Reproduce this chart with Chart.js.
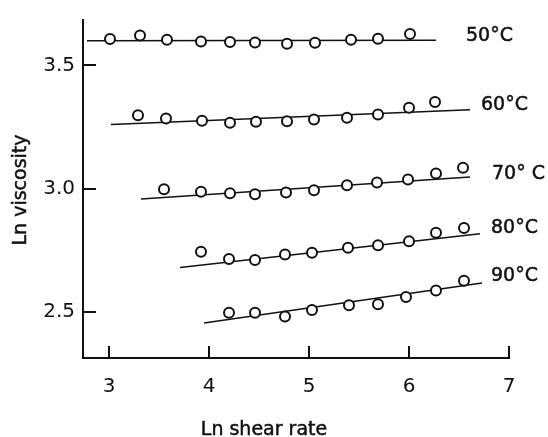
<!DOCTYPE html>
<html>
<head>
<meta charset="utf-8">
<script src="https://cdn.jsdelivr.net/npm/chart.js@4.4.0/dist/chart.umd.min.js"></script>
<style>
  html, body { margin: 0; padding: 0; background: #fff; }
  canvas { display: block; }
</style>
</head>
<body>
<canvas id="chart" width="548" height="437"></canvas>
<script>
// Ln viscosity vs Ln shear rate, one series per temperature

const xTicks = [3, 4, 5, 6, 7];
const yTicks = [2.5, 3.0, 3.5];
const tempLabels = ['50°C', '60°C', '70° C', '80°C', '90°C'];

// measured points
const shear50 = [3.01, 3.31, 3.58, 3.92, 4.21, 4.46, 4.78, 5.06, 5.42, 5.69, 6.01];
const visc50  = [3.607, 3.621, 3.604, 3.597, 3.595, 3.593, 3.588, 3.592, 3.604, 3.608, 3.627];

const shear60 = [3.29, 3.57, 3.93, 4.21, 4.47, 4.78, 5.05, 5.38, 5.69, 6.00, 6.26];
const visc60  = [3.297, 3.284, 3.275, 3.267, 3.271, 3.273, 3.280, 3.287, 3.300, 3.328, 3.351];

const shear70 = [3.55, 3.92, 4.21, 4.46, 4.77, 5.05, 5.38, 5.68, 5.99, 6.27, 6.54];
const visc70  = [2.997, 2.987, 2.981, 2.977, 2.984, 2.993, 3.013, 3.024, 3.037, 3.061, 3.084];

const shear80 = [3.92, 4.20, 4.46, 4.76, 5.03, 5.39, 5.69, 6.00, 6.27, 6.55];
const visc80  = [2.743, 2.714, 2.710, 2.732, 2.739, 2.760, 2.770, 2.786, 2.820, 2.840];

const shear90 = [4.20, 4.46, 4.76, 5.03, 5.40, 5.69, 5.97, 6.27, 6.55];
const visc90  = [2.496, 2.496, 2.480, 2.507, 2.526, 2.530, 2.560, 2.586, 2.626];

// fitted straight lines (end points)
const fitX50 = [2.78, 6.27];  const fitY50 = [3.600, 3.602];
const fitX60 = [3.02, 6.61];  const fitY60 = [3.260, 3.320];
const fitX70 = [3.32, 6.61];  const fitY70 = [2.957, 3.047];
const fitX80 = [3.71, 6.71];  const fitY80 = [2.679, 2.816];
const fitX90 = [3.95, 6.73];  const fitY90 = [2.454, 2.616];

// where the temperature labels sit (data units, left edge / middle)
const labelX = [6.57, 6.72, 6.83, 6.82, 6.82];
const labelY = [3.617, 3.337, 3.057, 2.838, 2.643];

const ink = '#111';
const fontFamily = '"DejaVu Sans", sans-serif';

function pts(xs, ys) {
    return xs.map((x, i) => ({ x: x, y: ys[i] }));
}

const pointSets = [[shear50, visc50], [shear60, visc60], [shear70, visc70], [shear80, visc80], [shear90, visc90]];
const fitSets = [[fitX50, fitY50], [fitX60, fitY60], [fitX70, fitY70], [fitX80, fitY80], [fitX90, fitY90]];

const datasets = [];
pointSets.forEach((s, i) => {
    datasets.push({
        type: 'scatter',
        label: tempLabels[i],
        data: pts(s[0], s[1]),
        pointRadius: 5,
        pointBorderWidth: 2,
        pointBorderColor: ink,
        pointBackgroundColor: '#fff',
        order: 0
    });
});
fitSets.forEach((s, i) => {
    datasets.push({
        type: 'line',
        label: tempLabels[i] + ' fit',
        data: pts(s[0], s[1]),
        borderColor: ink,
        borderWidth: 1.5,
        pointRadius: 0,
        fill: false,
        order: 1
    });
});

// inward tick marks, axis titles and temperature labels
const decorations = {
    id: 'decorations',
    afterDraw(chart) {
        const { ctx, chartArea, scales } = chart;
        const xs = scales.x, ys = scales.y;
        ctx.save();
        ctx.strokeStyle = ink;
        ctx.lineWidth = 2;
        ctx.beginPath();
        xTicks.forEach(v => {
            const px = Math.round(xs.getPixelForValue(v));
            ctx.moveTo(px, chartArea.bottom);
            ctx.lineTo(px, chartArea.bottom - 12);
        });
        yTicks.forEach(v => {
            const py = Math.round(ys.getPixelForValue(v));
            ctx.moveTo(chartArea.left, py);
            ctx.lineTo(chartArea.left + 13, py);
        });
        ctx.stroke();

        // slightly heavier text, like the printed figure
        ctx.fillStyle = ink;
        ctx.lineWidth = 0.5;
        ctx.font = '19px ' + fontFamily;
        ctx.textBaseline = 'alphabetic';
        ctx.textAlign = 'center';
        ctx.fillText('Ln shear rate', chartArea.left + 181, chartArea.bottom + 77);
        ctx.strokeText('Ln shear rate', chartArea.left + 181, chartArea.bottom + 77);

        ctx.save();
        ctx.translate(chartArea.left - 57, chartArea.top + 170);
        ctx.rotate(-Math.PI / 2);
        ctx.fillText('Ln viscosity', 0, 0);
        ctx.strokeText('Ln viscosity', 0, 0);
        ctx.restore();

        ctx.font = '19px ' + fontFamily;
        ctx.textAlign = 'left';
        ctx.textBaseline = 'middle';
        tempLabels.forEach((t, i) => {
            const px = xs.getPixelForValue(labelX[i]);
            const py = ys.getPixelForValue(labelY[i]);
            ctx.fillText(t, px, py);
            ctx.strokeText(t, px, py);
        });
        ctx.restore();
    }
};

new Chart(document.getElementById('chart'), {
    type: 'scatter',
    data: { datasets: datasets },
    options: {
        responsive: false,
        animation: false,
        layout: { padding: { left: 0, right: 39, top: 15, bottom: 0 } },
        plugins: {
            legend: { display: false },
            tooltip: { enabled: false }
        },
        scales: {
            x: {
                type: 'linear',
                min: 2.74,
                max: 7,
                afterBuildTicks: axis => { axis.ticks = xTicks.map(v => ({ value: v })); },
                afterFit: axis => { axis.height = 79; },
                grid: { drawOnChartArea: false, drawTicks: false },
                border: { color: ink, width: 2 },
                ticks: {
                    color: ink,
                    padding: 17,
                    font: { family: fontFamily, size: 20 },
                    maxRotation: 0,
                    callback: v => String(v)
                }
            },
            y: {
                type: 'linear',
                min: 2.312,
                max: 3.684,
                afterBuildTicks: axis => { axis.ticks = yTicks.map(v => ({ value: v })); },
                afterFit: axis => { axis.width = 83; },
                grid: { drawOnChartArea: false, drawTicks: false },
                border: { color: ink, width: 2 },
                ticks: {
                    color: ink,
                    padding: 8,
                    font: { family: fontFamily, size: 20 },
                    callback: v => v.toFixed(1)
                }
            }
        }
    },
    plugins: [decorations]
});
</script>
</body>
</html>
